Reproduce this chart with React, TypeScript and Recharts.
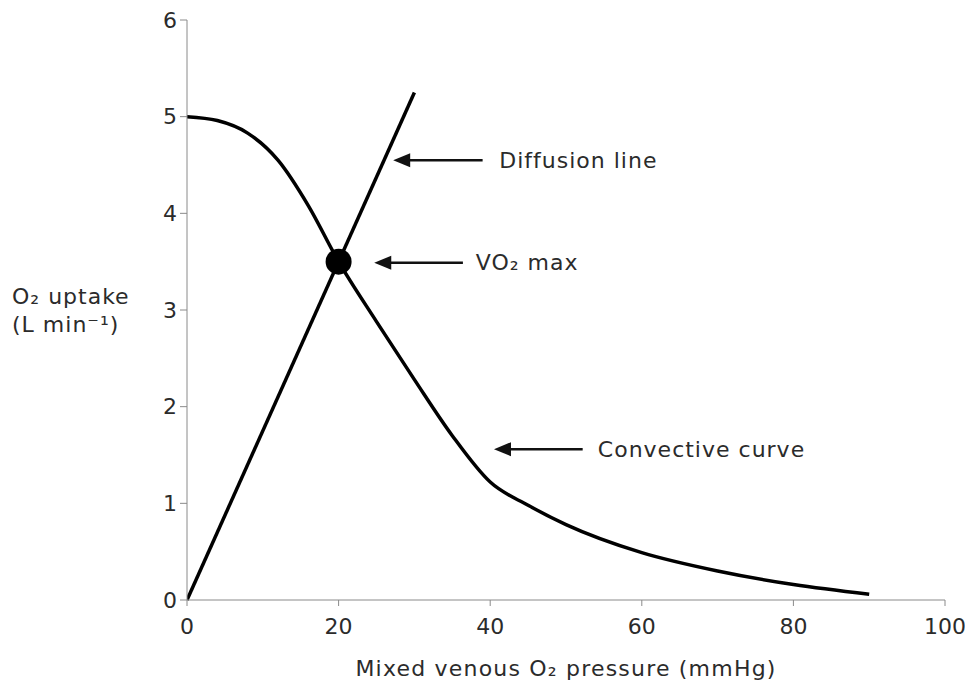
import React from 'react';
import { ComposedChart, Line, XAxis, YAxis, ReferenceDot, ReferenceLine } from 'recharts';

// mixed venous O2 pressure (mmHg) vs O2 uptake (L/min)
const convectiveX = [0, 4, 8, 12, 16, 20, 25, 30, 35, 40, 45, 50, 60, 70, 80, 90];
const convectiveY = [5.0, 4.96, 4.83, 4.55, 4.08, 3.5, 2.88, 2.28, 1.7, 1.22, 0.98, 0.78, 0.49, 0.3, 0.16, 0.06];
const diffusionX = [0, 30];
const diffusionY = [0, 5.25];
const vo2Max = { x: 20, y: 3.5 };

const xTicks = [0, 20, 40, 60, 80, 100];
const yTicks = [0, 1, 2, 3, 4, 5, 6];

// arrow annotations: tip x, tail x, y, label start x (data units)
const notes = [
  { label: 'Diffusion line', tip: 27.2, tail: 39.0, y: 4.55, textX: 41.2 },
  { label: 'VO\u2082 max', tip: 24.7, tail: 36.4, y: 3.49, textX: 38.1 },
  { label: 'Convective curve', tip: 40.5, tail: 52.2, y: 1.56, textX: 54.2 },
];

const convective = convectiveX.map((x, i) => ({ x, y: convectiveY[i] }));
const diffusion = diffusionX.map((x, i) => ({ x, y: diffusionY[i] }));

const FONT = '"DejaVu Sans", Verdana, sans-serif';
const TEXT = '#2b2b2b';

const ArrowShape = (props: any) => {
  const { x1, y1, x2, y2, label, textStart } = props;
  const head = 17;
  const hw = 7;
  return (
    <g>
      <line x1={x1 + head - 2} y1={y1} x2={x2} y2={y2} stroke="#111" strokeWidth={2.5} />
      <polygon points={`${x1},${y1} ${x1 + head},${y1 - hw} ${x1 + head},${y1 + hw}`} fill="#111" />
      <text x={x2 + textStart} y={y1} dy="0.35em" fontFamily={FONT} fontSize={22} letterSpacing={1} fill={TEXT}>
        {label}
      </text>
    </g>
  );
};

export default function App() {
  return (
    <div style={{ margin: -8, width: 973, height: 688, background: '#fff', position: 'relative', fontFamily: FONT }}>
      <ComposedChart width={973} height={688} margin={{ top: 20, right: 28, bottom: 48, left: 127 }}>
        <XAxis
          type="number"
          dataKey="x"
          domain={[0, 100]}
          ticks={xTicks}
          height={40}
          stroke="#8a8a8a"
          tickSize={6}
          tickMargin={12}
          tick={{ fill: TEXT, fontSize: 22, fontFamily: FONT }}
          allowDataOverflow
        />
        <YAxis
          type="number"
          domain={[0, 6]}
          ticks={yTicks}
          width={60}
          stroke="#8a8a8a"
          tickSize={7}
          tickMargin={3}
          tick={{ fill: TEXT, fontSize: 22, fontFamily: FONT }}
        />
        <Line data={diffusion} dataKey="y" type="linear" stroke="#000" strokeWidth={3.5} dot={false} isAnimationActive={false} />
        <Line data={convective} dataKey="y" type="monotone" stroke="#000" strokeWidth={3.5} dot={false} isAnimationActive={false} />
        <ReferenceDot x={vo2Max.x} y={vo2Max.y} r={13} fill="#000" stroke="none" />
        {notes.map((n) => {
          const px = (973 - 127 - 60 - 28) / 100;
          return (
            <ReferenceLine
              key={n.label}
              segment={[{ x: n.tip, y: n.y }, { x: n.tail, y: n.y }]}
              shape={(p: any) => <ArrowShape {...p} label={n.label} textStart={(n.textX - n.tail) * px} />}
            />
          );
        })}
      </ComposedChart>
      <div style={{ position: 'absolute', left: 12, top: 283, fontSize: 22, lineHeight: '28px', letterSpacing: 1, color: TEXT }}>
        O₂ uptake
        <br />
        (L min⁻¹)
      </div>
      <div style={{ position: 'absolute', left: 187, width: 758, top: 656, textAlign: 'center', fontSize: 22, letterSpacing: 1.2, color: TEXT }}>
        Mixed venous O₂ pressure (mmHg)
      </div>
    </div>
  );
}
